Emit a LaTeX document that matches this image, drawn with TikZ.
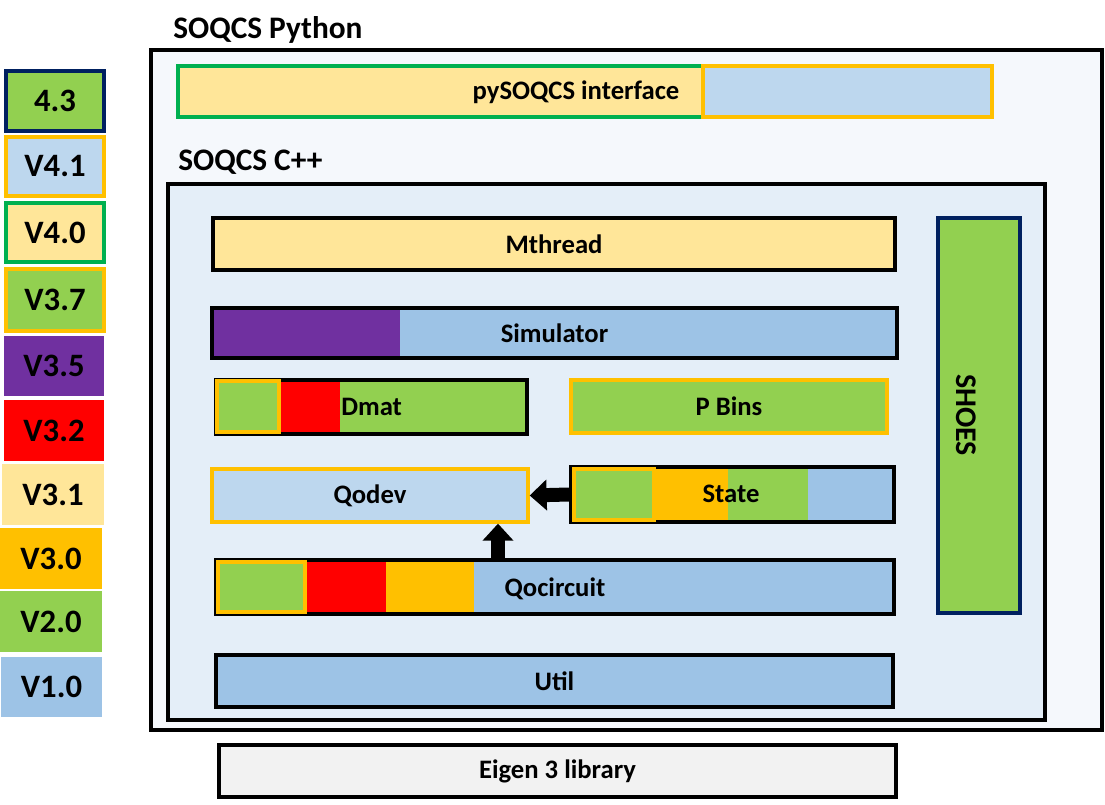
\documentclass[tikz,border=0pt]{standalone}
\usepackage{fontspec}
\setmainfont{Carlito}
\usetikzlibrary{fit,arrows.meta}
\definecolor{cgreen}{HTML}{92D050}
\definecolor{cgreenb}{HTML}{00B050}
\definecolor{clblue}{HTML}{BDD7EE}
\definecolor{cblue}{HTML}{9DC3E6}
\definecolor{cyel}{HTML}{FFE699}
\definecolor{corange}{HTML}{FFC000}
\definecolor{cred}{HTML}{FF0000}
\definecolor{cpurple}{HTML}{7030A0}
\definecolor{cnavy}{HTML}{002060}
\definecolor{pybg}{HTML}{F5F8FC}
\definecolor{cppbg}{HTML}{E4EEF8}
\definecolor{eigbg}{HTML}{F2F2F2}
\newcommand\lblfont{\bfseries\fontsize{20}{24}\selectfont}
\newcommand\legfont{\bfseries\fontsize{24.5}{28}\selectfont}
\newcommand\titfont{\bfseries\fontsize{23.5}{28}\selectfont}
\begin{document}
\begin{tikzpicture}[x=0.75pt,y=-0.75pt,
  box/.style={inner sep=0pt, line width=3pt, draw=black},
  ybox/.style={inner sep=0pt, line width=2.5pt, draw=corange},
  lbl/.style={font=\lblfont, inner sep=0pt},
  leg/.style={font=\legfont, inner sep=0pt},
  tit/.style={font=\titfont, inner sep=0pt, anchor=west},
  blockarrow/.style={line width=10.5pt, -{Triangle[length=12.75pt,width=22.5pt]}}]
\useasboundingbox (0,0) rectangle (1105,805);
% legend
\node[fit={(6,71)(104,131)}, inner sep=0pt, line width=2.7pt, draw=cnavy, fill=cgreen] (l43) {};
\node[fit={(6,137)(104,196)}, ybox, line width=2.7pt, fill=clblue] (l41) {};
\node[fit={(6,203)(104,262)}, inner sep=0pt, line width=2.7pt, draw=cgreenb, fill=cyel] (l40) {};
\node[fit={(6,269)(104,331)}, ybox, line width=2.7pt, fill=cgreen] (l37) {};
\node[fit={(4,336)(104,396)}, inner sep=0pt, fill=cpurple] (l35) {};
\node[fit={(4,400)(104,461)}, inner sep=0pt, fill=cred] (l32) {};
\node[fit={(2,464)(104,525)}, inner sep=0pt, fill=cyel] (l31) {};
\node[fit={(0,528)(102,589)}, inner sep=0pt, fill=corange] (l30) {};
\node[fit={(0,591)(102,652)}, inner sep=0pt, fill=cgreen] (l20) {};
\node[fit={(1,657)(102,717)}, inner sep=0pt, fill=cblue] (l10) {};
\node[leg] (t43) at (l43.center) {4.3};
\node[leg] (t41) at (l41.center) {V4.1};
\node[leg] (t40) at (l40.center) {V4.0};
\node[leg] (t37) at (l37.center) {V3.7};
\node[leg] (t35) at (l35.center) {V3.5};
\node[leg] (t32) at (l32.center) {V3.2};
\node[leg] (t31) at (l31.center) {V3.1};
\node[leg] (t30) at (l30.center) {V3.0};
\node[leg] (t20) at (l20.center) {V2.0};
\node[leg] (t10) at (l10.center) {V1.0};
% python box
\node[fit={(151,50)(1102,730)}, box, line width=2.6pt, fill=pybg] (py) {};
\node[tit] (pytit) at (173,30) {SOQCS Python};
\node[fit={(178,66)(703,117)}, inner sep=0pt, line width=2.5pt, draw=cgreenb, fill=cyel] (pyif) {};
\node[fit={(703,66)(992,117)}, ybox, fill=clblue] (pyif2) {};
\node[lbl] (pyiflbl) at (576,92) {pySOQCS interface};
% C++ box
\node[tit] (cpptit) at (178,162) {SOQCS C++};
\node[fit={(168,184)(1045,720)}, box, line width=2.6pt, fill=cppbg] (cpp) {};
% Mthread
\node[fit={(213,218)(895,270)}, box, fill=cyel] (mthread) {};
\node[lbl] (mthreadlbl) at (mthread.center) {Mthread};
% Simulator
\fill[cpurple] (212,308) rectangle (400,358);
\fill[cblue] (400,308) rectangle (897,358);
\node[fit={(212,308)(897,358)}, box] (sim) {};
\node[lbl] (simlbl) at (sim.center) {Simulator};
% Dmat
\fill[cgreen] (216,380) rectangle (527,434);
\fill[cred] (279,382) rectangle (340,432);
\node[fit={(216,380)(527,434)}, box] (dmat) {};
\node[fit={(217,381)(279,432)}, ybox, fill=cgreen] (dmatv) {};
\node[lbl, anchor=west] (dmatlbl) at (341,407) {Dmat};
% P Bins
\node[fit={(571,380)(887,433)}, ybox, fill=cgreen] (pbins) {};
\node[lbl] (pbinslbl) at (pbins.center) {P Bins};
% Qodev
\node[fit={(212,469)(528,522)}, ybox, fill=clblue] (qodev) {};
\node[lbl] (qodevlbl) at (qodev.center) {Qodev};
% State
\fill[corange] (654,468) rectangle (728,521);
\fill[cgreen] (728,468) rectangle (808,521);
\fill[cblue] (808,468) rectangle (893,521);
\node[fit={(571,467)(894,522)}, box] (state) {};
\node[fit={(574,469)(654,520)}, ybox, fill=cgreen] (statev) {};
\node[lbl] (statelbl) at (731,494) {State};
% Qocircuit
\fill[cblue] (216,560) rectangle (894,614);
\fill[cred] (305,562) rectangle (386,612);
\fill[corange] (386,562) rectangle (474,612);
\node[fit={(216,560)(894,614)}, box] (qoc) {};
\node[fit={(218,562)(305,612)}, ybox, fill=cgreen] (qocv) {};
\node[lbl] (qoclbl) at (555,589) {Qocircuit};
% Util
\node[fit={(216,655)(893,707)}, box, fill=cblue] (util) {};
\node[lbl] (utillbl) at (util.center) {Util};
% SHOES
\node[fit={(938,218)(1020,613)}, inner sep=0pt, line width=2.5pt, draw=cnavy, fill=cgreen] (shoes) {};
\node[font=\bfseries\fontsize{22.5}{26}\selectfont, inner sep=0pt, rotate=-90] (shoeslbl) at (966,415) {SHOES};
% Eigen
\node[fit={(219,745)(896,797)}, box, fill=eigbg] (eigen) {};
\node[lbl] (eigenlbl) at (eigen.center) {Eigen 3 library};
% arrows
\draw[blockarrow] (state.west) -- (qodev.east);
\coordinate (va) at (498,540);
\draw[blockarrow] (va |- qoc.north) -- (va |- qodev.south);
\end{tikzpicture}
\end{document}
